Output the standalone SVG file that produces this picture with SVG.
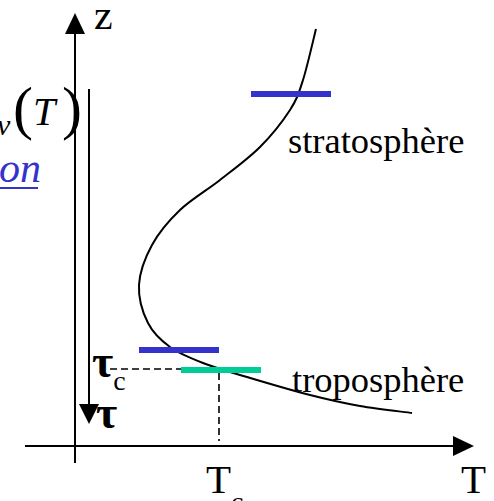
<svg xmlns="http://www.w3.org/2000/svg" width="494" height="501" viewBox="0 0 494 501">
<style>
.ax{stroke:#000;stroke-width:2;fill:none}
.dash{stroke:#000;stroke-width:1.6;stroke-dasharray:7,4;fill:none}
.head{fill:#000;stroke:none}
.lbl{font-family:"Liberation Serif","Times New Roman",serif;fill:#000}
.bb{stroke:#3333CC;stroke-width:6}
.gb{stroke:#00CC99;stroke-width:6}
</style>
<rect width="494" height="501" fill="#fff"/>
<g id="connectors">
  <line class="ax" x1="75" y1="32" x2="75" y2="463"/>
  <polygon class="head" points="75,13 65,34 85,34"/>
  <line class="ax" x1="25" y1="446" x2="455" y2="446"/>
  <polygon class="head" points="474,446 453,436 453,456"/>
  <line class="ax" x1="89" y1="89" x2="89" y2="406"/>
  <polygon class="head" points="89,424 79,404 99,404"/>
  <line class="dash" x1="110" y1="369" x2="181" y2="369"/>
  <line class="dash" x1="219" y1="373" x2="219" y2="441"/>
  <path class="ax" d="M316,29 C313.8,37.5 307.3,66.5 303,80 C298.7,93.5 297.2,98.8 290,110 C282.8,121.2 271.7,135.3 260,147 C248.3,158.7 233.3,169.5 220,180 C206.7,190.5 191.3,199.2 180,210 C168.7,220.8 158.8,232.5 152,245 C145.2,257.5 139.7,272 139,285 C138.3,298 142.8,312.7 148,323 C153.2,333.3 160.8,340.3 170,347 C179.2,353.7 190.2,358 203,363 C215.8,368 229.2,371.7 247,377 C264.8,382.3 291.2,390.2 310,395 C328.8,399.8 343,403 360,406 C377,409 403.3,411.8 412,413"/>
</g>
<g id="bar-strato"><line class="bb" x1="251" y1="94" x2="331" y2="94"/></g>
<g id="bar-tropo-blue"><line class="bb" x1="139" y1="350" x2="219" y2="350"/></g>
<g id="bar-tropo-green"><line class="gb" x1="181" y1="370" x2="261" y2="370"/></g>
<g id="labels">
  <text class="lbl" x="94" y="29" font-size="42">z</text>
  <text class="lbl" x="288" y="153" font-size="36.5">stratosphère</text>
  <text class="lbl" x="292" y="392" font-size="36.5">troposphère</text>
  <text class="lbl" x="461" y="493" font-size="41">T</text>
  <text class="lbl" x="206" y="493" font-size="41">T<tspan font-size="28" dy="18">c</tspan></text>
  <text class="lbl" x="92" y="377" font-size="46" font-weight="bold">τ<tspan font-size="28" font-weight="normal" dy="13">c</tspan></text>
  <text class="lbl" x="96" y="428" font-size="46" font-weight="bold">τ</text>
  <text class="lbl" x="-3" y="135" font-size="30" font-style="italic">ν</text>
  <text class="lbl" x="13" y="128" font-size="60">(</text>
  <text class="lbl" x="33" y="125" font-size="40" font-style="italic">T</text>
  <text class="lbl" x="62" y="128" font-size="60">)</text>
  <text class="lbl" x="-1" y="182" font-size="42" font-style="italic" style="fill:#3333CC">on</text>
  <line x1="0" y1="188" x2="38" y2="188" stroke="#3333CC" stroke-width="2"/>
</g>
</svg>
